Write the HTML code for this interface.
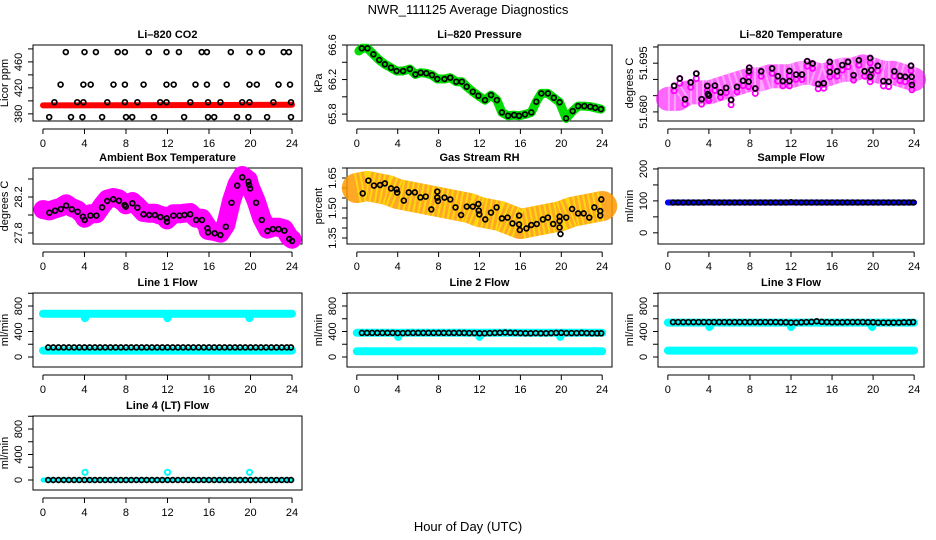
<!DOCTYPE html>
<html><head><meta charset="utf-8"><style>
html,body{margin:0;padding:0;background:#fff;}
svg{display:block;font-family:"Liberation Sans",Arial,sans-serif;}
</style></head><body>
<svg id="chart" width="936" height="540" viewBox="0 0 936 540" xmlns="http://www.w3.org/2000/svg">
<text x="468" y="14" font-size="13" text-anchor="middle">NWR_111125  Average Diagnostics</text>
<text x="468" y="531" font-size="13" text-anchor="middle">Hour of Day (UTC)</text>
</svg>
<script>
const xTicks = [0,4,8,12,16,20,24];

// CO2
const co2HiH = [2.2,4.0,5.1,7.2,7.9,10.2,11.9,13.1,15.3,15.8,18.1,19.9,21.1,23.2,23.7];
const co2MidH = [1.7,3.9,4.6,6.8,7.9,9.7,11.9,12.6,14.7,15.8,17.7,19.9,20.6,22.7,23.8];
const co2LowH = [1.1,3.3,3.9,6.2,7.9,9.1,11.3,11.9,14.2,15.9,17.1,19.2,19.9,22.2,23.9];
const co2BotH = [0.6,2.7,3.8,5.7,8.0,8.6,10.7,13.6,15.9,16.5,18.7,19.8,21.6,23.9];
const co2Levels = [475,425,398,375];
const co2RedH = [0,24];
const co2RedV = [393,394];

// Pressure
const presH = [0.2,0.49,1.04,1.62,2.2,2.75,3.34,3.89,4.53,5.18,5.73,6.25,6.8,7.35,7.87,8.58,9.14,9.72,10.27,10.75,11.34,11.89,12.54,13.12,13.7,14.19,14.8,15.39,15.87,16.45,17.07,17.56,18.04,18.69,19.27,19.83,20.47,21.12,21.64,22.25,22.84,23.32,23.88];
const presV = [66.53,66.562,66.562,66.492,66.426,66.376,66.337,66.299,66.299,66.322,66.26,66.279,66.272,66.252,66.206,66.206,66.221,66.175,66.175,66.117,66.059,66.012,65.962,66.02,65.962,65.82,65.78,65.788,65.78,65.796,65.82,65.943,66.04,66.04,65.989,65.936,65.75,65.835,65.893,65.893,65.885,65.873,65.858];

// Li-820 Temperature
const tempH = [0.61,1.16,1.68,2.23,2.77,3.29,3.84,3.9,4.0,4.58,5.13,5.68,6.16,6.74,7.32,7.87,7.94,7.9,8.52,9.1,10.16,10.71,11.2,11.84,11.84,12.49,13.07,13.58,14.1,14.65,15.2,15.78,15.78,16.49,17.0,17.55,18.1,18.62,19.17,19.72,19.72,19.82,20.46,21.0,21.52,22.07,22.62,23.14,23.69,23.75,23.78];
const tempV = [51.688,51.6903,51.6839,51.6891,51.6918,51.6839,51.688,51.6855,51.685,51.6881,51.686,51.6874,51.6837,51.6877,51.6896,51.6893,51.6936,51.6925,51.6872,51.6925,51.6934,51.691,51.6895,51.6926,51.6895,51.6915,51.6915,51.6956,51.6949,51.6886,51.6888,51.6954,51.6923,51.6925,51.6944,51.6954,51.6913,51.6959,51.6925,51.6966,51.6908,51.6929,51.6942,51.6895,51.6893,51.6925,51.6911,51.6908,51.6942,51.6908,51.6883];
const tempBandH = [0,1,2,3,4,5,6,7,8,9,10,11,12,13,14,15,16,17,18,19,20,21,22,23,24];
const tempBandV = [51.684,51.684,51.686,51.686,51.686,51.687,51.688,51.689,51.690,51.690,51.691,51.691,51.691,51.692,51.692,51.691,51.692,51.693,51.693,51.694,51.693,51.692,51.692,51.691,51.690];

// Ambient box temperature
const ambH = [0.0,0.62,1.17,1.72,2.24,2.78,3.34,3.85,4.02,4.57,5.15,5.7,6.19,6.77,7.32,7.87,7.97,8.62,9.1,9.69,10.24,10.79,11.31,11.92,11.95,12.57,13.15,13.64,14.19,14.77,15.32,15.84,15.91,16.55,17.1,17.62,18.17,18.72,19.21,19.8,19.86,19.96,20.54,21.09,21.64,22.16,22.71,23.26,23.74,24.0];
const ambV = [28.04,28.026,28.048,28.067,28.104,28.063,28.037,27.981,27.944,27.993,27.993,28.085,28.156,28.174,28.159,28.111,28.093,28.13,28.081,28.008,28.0,28.0,27.978,27.963,27.926,27.993,27.993,28.0,28.008,27.944,27.944,27.852,27.808,27.797,27.778,27.87,28.137,28.326,28.419,28.37,28.333,28.296,28.137,27.944,27.822,27.844,27.844,27.826,27.733,27.711];

// Gas stream RH
const rhH = [0.58,1.13,1.68,2.27,2.75,3.34,3.89,3.95,4.6,5.08,5.67,6.22,6.74,7.29,7.87,7.87,7.94,8.58,9.14,9.65,10.2,10.76,11.34,11.89,11.92,11.98,12.57,13.12,13.67,14.19,14.74,15.23,15.87,15.87,15.94,16.59,17.07,17.59,18.2,18.69,19.21,19.83,19.83,19.83,19.92,20.48,21.06,21.64,22.19,22.74,23.23,23.81,23.81,23.91];
const rhV = [1.573,1.637,1.612,1.615,1.623,1.598,1.593,1.577,1.537,1.578,1.578,1.553,1.557,1.493,1.582,1.552,1.535,1.552,1.543,1.503,1.465,1.507,1.507,1.52,1.487,1.468,1.443,1.477,1.503,1.448,1.452,1.423,1.462,1.418,1.39,1.398,1.415,1.42,1.443,1.452,1.42,1.457,1.435,1.403,1.37,1.452,1.495,1.473,1.473,1.452,1.503,1.485,1.462,1.543];
const rhBandH = [0,1,2,3,4,5,6,7,8,9,10,11,12,13,14,15,16,17,18,19,20,21,22,23,24];
const rhBandV = [1.60,1.61,1.60,1.59,1.57,1.56,1.55,1.54,1.53,1.52,1.51,1.50,1.48,1.47,1.46,1.44,1.42,1.43,1.44,1.45,1.46,1.48,1.49,1.50,1.51];

// Flows (black circles on a half-hour grid)
const flowH = [0.5,1,1.5,2,2.5,3,3.5,4,4.5,5,5.5,6,6.5,7,7.5,8,8.5,9,9.5,10,10.5,11,11.5,12,12.5,13,13.5,14,14.5,15,15.5,16,16.5,17,17.5,18,18.5,19,19.5,20,20.5,21,21.5,22,22.5,23,23.5,23.9];
const sampleV = [95,95,95,95,95,95,95,96,95,95,95,95,95,95,95,95,95,95,95,95,95,95,95,96,95,95,95,95,95,95,95,95,95,95,95,95,95,95,95,95,95,95,95,95,95,95,95,95];
const line1V = [150,150,150,150,150,150,150,150,150,150,150,150,150,150,150,150,150,150,150,150,150,150,150,150,150,150,150,150,150,150,150,150,150,150,150,150,150,150,150,150,150,150,150,150,150,150,150,150];
const line2V = [378,378,378,378,378,378,378,375,375,378,378,378,378,378,378,378,378,378,378,378,378,375,375,372,372,375,378,380,385,380,378,375,372,372,375,372,372,375,378,380,375,375,375,378,375,372,372,372];
const line3V = [548,548,548,548,548,548,548,548,548,548,548,548,548,548,548,548,548,548,548,548,548,545,545,540,540,545,548,550,560,550,548,545,545,545,548,548,548,548,545,545,540,540,540,540,540,545,545,548];
const line4V = [0,0,0,0,0,0,0,0,0,0,0,0,0,0,0,0,0,0,0,0,0,0,0,0,0,0,0,0,0,0,0,0,0,0,0,0,0,0,0,0,0,0,0,0,0,0,0,0];

// Cyan bands
const bandDipH = [0,3.9,4.05,4.2,11.85,12.0,12.15,19.75,19.9,20.05,24];
const line1UpperV = [680,680,610,680,680,610,680,680,610,680,680];
const line2UpperV = [380,380,315,380,380,315,380,380,315,380,380];
const line3UpperV = [540,540,470,540,540,470,540,540,470,540,540];
const line4CyanV = [0,0,0,0,0,0,0,0,0,0,0];
const line4SpikeH = [4.05,12.0,19.9];
const line4SpikeV = [120,120,120];
const lowerH = [0,24];
const line1LowerV = [100,100];
const line2LowerV = [90,90];
const line3LowerV = [100,100];
const sampleBandV = [95,95];

const NS = 'http://www.w3.org/2000/svg';
const svg = document.getElementById('chart');
const cols = [[33,302],[347,612],[658,924]];
const rows = [[45,121],[168,244],[293,367],[416,490]];
const flowTicks = [0,200,400,600,800,1000];
const flowLabels = [0,400,800];
const panels = {
  co2:{c:0,r:0,title:'Li\u2013820 CO2',ylab:'Licor ppm',y:[369,486],ticks:[380,400,420,440,460,480],labels:['380','420','460']},
  pres:{c:1,r:0,title:'Li\u2013820 Pressure',ylab:'kPa',y:[65.72,66.6],ticks:[65.8,66.0,66.2,66.4,66.6],labels:['65.8','66.2','66.6']},
  temp:{c:2,r:0,title:'Li\u2013820 Temperature',ylab:'degrees C',y:[51.6772,51.7006],ticks:[51.68,51.685,51.69,51.695,51.70],labels:['51.680','51.695']},
  amb:{c:0,r:1,title:'Ambient Box Temperature',ylab:'degrees C',y:[27.678,28.522],ticks:[27.8,28.0,28.2,28.4],labels:['27.8','28.2']},
  rh:{c:1,r:1,title:'Gas Stream RH',ylab:'percent',y:[1.32,1.70],ticks:[1.35,1.40,1.45,1.50,1.55,1.60,1.65,1.70],labels:['1.35','1.50','1.65']},
  samp:{c:2,r:1,title:'Sample Flow',ylab:'ml/min',y:[-35,203],ticks:[0,50,100,150,200],labels:['0','100','200']},
  l1:{c:0,r:2,title:'Line 1 Flow',ylab:'ml/min',y:[-157,1004],ticks:flowTicks,labels:flowLabels.map(String)},
  l2:{c:1,r:2,title:'Line 2 Flow',ylab:'ml/min',y:[-157,1004],ticks:flowTicks,labels:flowLabels.map(String)},
  l3:{c:2,r:2,title:'Line 3 Flow',ylab:'ml/min',y:[-157,1004],ticks:flowTicks,labels:flowLabels.map(String)},
  l4:{c:0,r:3,title:'Line 4 (LT) Flow',ylab:'ml/min',y:[-157,1004],ticks:flowTicks,labels:flowLabels.map(String)}
};
function mk(tag, attrs, parent){const e=document.createElementNS(NS,tag);for(const k in attrs)e.setAttribute(k,attrs[k]);(parent||svg).appendChild(e);return e;}
function sx(p,h){const [a,b]=cols[p.c];return a+(h+0.96)/25.92*(b-a);}
function sy(p,v){const [t,bt]=rows[p.r];return bt-(v-p.y[0])/(p.y[1]-p.y[0])*(bt-t);}

function drawFrame(key){
  const p=panels[key];const [x0,x1]=cols[p.c];const [y0,y1]=rows[p.r];
  const g=mk('g',{});
  
  
  p.g=g;
  const box=mk('rect',{x:x0,y:y0,width:x1-x0,height:y1-y0,fill:'none',stroke:'#000','stroke-width':1},g);
  
  
  const t=mk('text',{x:(x0+x1)/2,y:y0-7,'font-size':11,'font-weight':'bold','text-anchor':'middle'},g);
  t.textContent=p.title;
  
  
  const ax=y1+8;
  const xl=mk('line',{x1:sx(p,0),x2:sx(p,24),y1:ax,y2:ax,stroke:'#000'},g);
  
  
  xTicks.forEach(v=>{
    mk('line',{x1:sx(p,v),x2:sx(p,v),y1:ax,y2:ax+5,stroke:'#000'},g);
    const l=mk('text',{x:sx(p,v),y:ax+18,'font-size':11,'text-anchor':'middle'},g);
    l.textContent=v;
    
    
  });
  const yl=mk('line',{x1:x0,x2:x0,y1:sy(p,p.ticks[0]),y2:sy(p,p.ticks[p.ticks.length-1]),stroke:'#000'},g);
  
  
  p.ticks.forEach(v=>{mk('line',{x1:x0-5,x2:x0,y1:sy(p,v),y2:sy(p,v),stroke:'#000'},g);});
  p.labels.forEach(s=>{
    const yy=sy(p,parseFloat(s));const xx=x0-11;
    const l=mk('text',{x:xx,y:yy,'font-size':11,'text-anchor':'middle',transform:'rotate(-90 '+xx+' '+yy+')'},g);
    l.textContent=s;
    
    
  });
  const yc=(y0+y1)/2,xc=x0-25;
  const yt=mk('text',{x:xc,y:yc,'font-size':11,'text-anchor':'middle',transform:'rotate(-90 '+xc+' '+yc+')'},g);
  yt.textContent=p.ylab;
  
  
}
function band(key,hs,vs,color,w,name,extra){
  const p=panels[key];
  const pts=hs.map((h,i)=>sx(p,h).toFixed(1)+','+sy(p,vs[i]).toFixed(1)).join(' ');
  const e=mk('polyline',Object.assign({points:pts,fill:'none',stroke:color,'stroke-width':w,'stroke-linecap':'round','stroke-linejoin':'round'},extra||{}),p.g);
  
  
}
function dots(key,hs,vs,color,name,r,sw){
  const p=panels[key];
  const g=mk('g',{},p.g);
  
  
  hs.forEach((h,i)=>{mk('circle',{cx:sx(p,h).toFixed(1),cy:sy(p,vs[i]).toFixed(1),r:r||2.4,fill:'none',stroke:color,'stroke-width':sw||1.7},g);});
}
Object.keys(panels).forEach(drawFrame);

// CO2
band('co2',co2RedH,co2RedV,'#ff0000',6,'co2-red-band');
[co2HiH,co2MidH,co2LowH,co2BotH].forEach((hs,k)=>dots('co2',hs,hs.map(()=>co2Levels[k]),'#000','co2-points-'+k));
// Pressure
band('pres',presH,presV,'#00dd00',9,'pressure-green-band');
dots('pres',presH.slice(1),presV.slice(1),'#000','pressure-points');
// Temp
band('temp',tempBandH,tempBandV,'#ff00ff',24,'temp-magenta-band',{opacity:0.6});
band('temp',tempBandH,tempBandV,'#ffffff',24,'temp-band-texture',{opacity:0.4,'stroke-dasharray':'2 4','stroke-linecap':'butt'});
dots('temp',tempH,tempV,'#ff00ff','temp-pink-points',2.6,1.8);
dots('temp',tempH,tempV.map(v=>v-0.0015),'#ff00ff','temp-pink-points-lower',2.6,1.8);
dots('temp',tempH,tempV,'#000','temp-points');
// Ambient
band('amb',ambH,ambV.map(v=>v+0.02),'#ff00ff',19,'ambient-magenta-band');
dots('amb',ambH.slice(1),ambV.slice(1),'#000','ambient-points');
// RH
band('rh',rhBandH,rhBandV,'#ff9900',30,'rh-orange-band',{opacity:0.85});
band('rh',rhBandH,rhBandV,'#ffee00',30,'rh-yellow-texture',{'stroke-dasharray':'2 3','stroke-linecap':'butt',opacity:0.7});
dots('rh',rhH,rhV,'#000','rh-points');
// Sample flow
band('samp',lowerH,sampleBandV,'#0000ff',6,'sample-blue-band');
dots('samp',flowH,sampleV,'#000','sample-points');
// Line 1
band('l1',bandDipH,line1UpperV,'#00ffff',8,'line1-cyan-upper');
band('l1',lowerH,line1LowerV,'#00ffff',8,'line1-cyan-lower');
dots('l1',flowH,line1V,'#000','line1-points');
// Line 2
band('l2',bandDipH,line2UpperV,'#00ffff',8,'line2-cyan-upper');
band('l2',lowerH,line2LowerV,'#00ffff',8,'line2-cyan-lower');
dots('l2',flowH,line2V,'#000','line2-points');
// Line 3
band('l3',bandDipH,line3UpperV,'#00ffff',8,'line3-cyan-upper');
band('l3',lowerH,line3LowerV,'#00ffff',8,'line3-cyan-lower');
dots('l3',flowH,line3V,'#000','line3-points');
// Line 4
band('l4',bandDipH,line4CyanV,'#00ffff',5,'line4-cyan');
dots('l4',line4SpikeH,line4SpikeV,'#00ffff','line4-cyan-spikes',2.6,2);
dots('l4',flowH,line4V,'#000','line4-points');
</script>
</body></html>
